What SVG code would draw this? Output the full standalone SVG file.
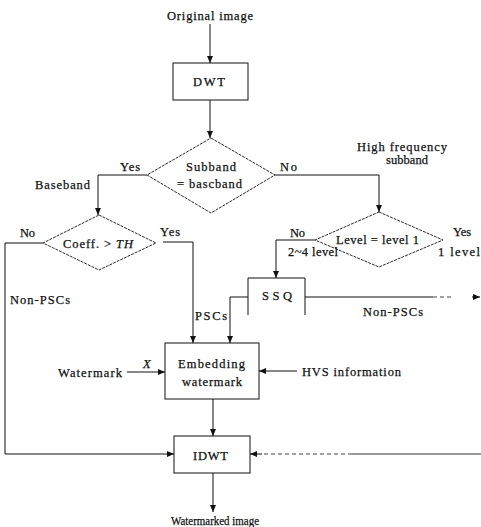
<svg xmlns="http://www.w3.org/2000/svg" width="481" height="527" viewBox="0 0 481 527">
<defs>
<style>
.t{font-family:"Liberation Serif","Times New Roman",serif;font-size:12.5px;fill:#111;stroke:#111;stroke-width:0.25;}
.i{font-style:italic;}
.box{fill:#fff;stroke:#111;stroke-width:1;}
.dia{fill:#fff;stroke:#111;stroke-width:0.9;stroke-dasharray:3 1;}
.ln{fill:none;stroke:#111;stroke-width:1;}
.dl{fill:none;stroke:#444;stroke-width:1;stroke-dasharray:4 3;}
</style>
<marker id="ah" viewBox="0 0 7 6" markerUnits="userSpaceOnUse" markerWidth="7" markerHeight="6" refX="7" refY="3" orient="auto">
<path d="M0,0 L7,3 L0,6 z" fill="#111"/>
</marker>
</defs>
<rect width="481" height="527" fill="#fff"/>

<g id="connectors">
<path class="ln" d="M210,24 V63" marker-end="url(#ah)"/>
<path class="ln" d="M210,100 V138" marker-end="url(#ah)"/>
<path class="ln" d="M147,175 H98 V215" marker-end="url(#ah)"/>
<path class="ln" d="M275,175 H379 V212" marker-end="url(#ah)"/>
<path class="ln" d="M43,243 H5 V454 H174" marker-end="url(#ah)"/>
<path class="ln" d="M163,242 H193 V343" marker-end="url(#ah)"/>
<path class="ln" d="M315,240 H276 V278" marker-end="url(#ah)"/>
<path class="ln" d="M248,297 H230 V343" marker-end="url(#ah)"/>
<path class="ln" d="M305,297 H433"/>
<path class="dl" d="M433,297 H452"/>
<path class="ln" d="M472,297 H480" marker-end="url(#ah)"/>
<path class="ln" d="M127,372 H165" marker-end="url(#ah)"/>
<path class="ln" d="M297,371 H259" marker-end="url(#ah)"/>
<path class="ln" d="M213,399 V436" marker-end="url(#ah)"/>
<path class="ln" d="M481,454 H352" style="stroke:#333"/>
<path class="dl" d="M352,454 H262"/>
<path class="ln" d="M262,454 H250" marker-end="url(#ah)"/>
<path class="ln" d="M213,473 V512" marker-end="url(#ah)"/>
</g>

<g id="original">
<text class="t" x="167" y="19.5" textLength="86" lengthAdjust="spacing">Original image</text>
</g>
<g id="dwt">
<rect class="box" x="173" y="63" width="75" height="37"/>
<text class="t" x="193" y="86" textLength="32" lengthAdjust="spacing">DWT</text>
</g>
<g id="subband">
<polygon class="dia" points="211,138 275,175 211,213 147,175"/>
<text class="t" x="186" y="171" textLength="50" lengthAdjust="spacing">Subband</text>
<text class="t" x="177" y="188" textLength="65" lengthAdjust="spacing">= bascband</text>
</g>
<g id="coeff">
<polygon class="dia" points="99,215 156,243 99,270 43,243"/>
<text class="t" x="63" y="248" textLength="70" lengthAdjust="spacing">Coeff. &gt; <tspan class="i">TH</tspan></text>
</g>
<g id="level">
<polygon class="dia" points="379,212 443,240 379,267 315,240"/>
<text class="t" x="336" y="244" textLength="83" lengthAdjust="spacing">Level = level 1</text>
</g>
<g id="ssq">
<path class="box" d="M248,315 V278 H305 V315" style="fill:none"/>
<text class="t" x="262" y="300" textLength="30" lengthAdjust="spacing">SSQ</text>
</g>
<g id="embedding">
<rect class="box" x="165" y="343" width="94" height="56"/>
<text class="t" x="178" y="368" textLength="67" lengthAdjust="spacing">Embedding</text>
<text class="t" x="182" y="386" textLength="60" lengthAdjust="spacing">watermark</text>
</g>
<g id="idwt">
<rect class="box" x="174" y="436" width="76" height="37"/>
<text class="t" x="193" y="460" textLength="35" lengthAdjust="spacing">IDWT</text>
</g>
<g id="watermarked">
<text class="t" x="171" y="525" textLength="88" lengthAdjust="spacingAndGlyphs">Watermarked image</text>
</g>
<g id="labels">
<text class="t" x="120" y="171" textLength="20" lengthAdjust="spacing">Yes</text>
<text class="t" x="280" y="171" textLength="17" lengthAdjust="spacing">No</text>
<text class="t" x="357" y="151" textLength="90" lengthAdjust="spacing">High frequency</text>
<text class="t" x="386" y="164" textLength="42" lengthAdjust="spacing">subband</text>
<text class="t" x="35" y="189" textLength="55" lengthAdjust="spacing">Baseband</text>
<text class="t" x="20" y="237" textLength="15" lengthAdjust="spacing">No</text>
<text class="t" x="160" y="236" textLength="20" lengthAdjust="spacing">Yes</text>
<text class="t" x="290" y="237" textLength="15" lengthAdjust="spacing">No</text>
<text class="t" x="453" y="236" textLength="18" lengthAdjust="spacing">Yes</text>
<text class="t" x="288" y="256" textLength="50" lengthAdjust="spacing">2~4 level</text>
<text class="t" x="438" y="256" textLength="42" lengthAdjust="spacing">1 level</text>
<text class="t" x="10" y="304" textLength="60" lengthAdjust="spacing">Non-PSCs</text>
<text class="t" x="195" y="320" textLength="32" lengthAdjust="spacing">PSCs</text>
<text class="t" x="363" y="316" textLength="60" lengthAdjust="spacing">Non-PSCs</text>
<text class="t" x="58" y="377" textLength="64" lengthAdjust="spacing">Watermark</text>
<text class="t i" x="143" y="368">X</text>
<text class="t" x="302" y="376" textLength="99" lengthAdjust="spacing">HVS information</text>
</g>
</svg>
